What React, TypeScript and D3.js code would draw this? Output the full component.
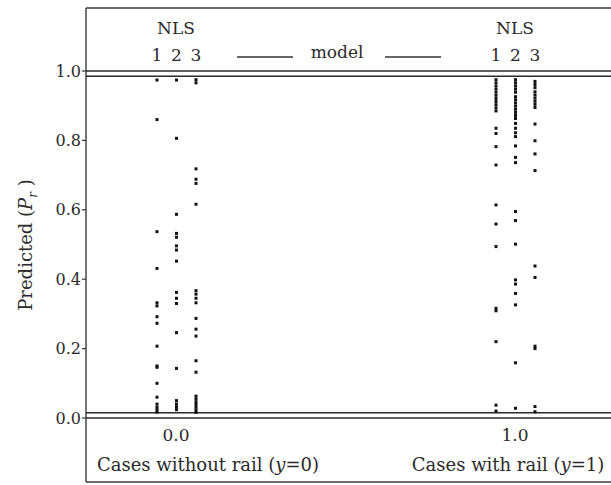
import React from "react";
import * as d3 from "d3";

// predicted probabilities, one list per NLS model and outcome
const models = ["1", "2", "3"];
const outcomes = [0, 1];
const outcomeLabels = ["Cases without rail (", "Cases with rail ("];

const noRail1 = [0.974, 0.86, 0.537, 0.431, 0.332, 0.323, 0.292, 0.273, 0.207, 0.15, 0.146, 0.1, 0.06, 0.04, 0.031, 0.024, 0.017];
const noRail2 = [0.974, 0.806, 0.587, 0.532, 0.521, 0.496, 0.484, 0.452, 0.362, 0.345, 0.33, 0.246, 0.143, 0.05, 0.04, 0.032, 0.024];
const noRail3 = [0.975, 0.966, 0.718, 0.688, 0.676, 0.616, 0.367, 0.357, 0.345, 0.332, 0.287, 0.256, 0.236, 0.165, 0.132, 0.063, 0.055, 0.047, 0.039, 0.031, 0.023, 0.016];

const rail1 = [0.975, 0.966, 0.957, 0.948, 0.939, 0.93, 0.921, 0.912, 0.903, 0.894, 0.885, 0.835, 0.82, 0.782, 0.729, 0.614, 0.559, 0.494, 0.316, 0.309, 0.22, 0.037, 0.02];
const rail2 = [0.975, 0.966, 0.957, 0.948, 0.939, 0.926, 0.917, 0.908, 0.899, 0.89, 0.881, 0.872, 0.863, 0.849, 0.835, 0.822, 0.811, 0.784, 0.751, 0.736, 0.595, 0.569, 0.501, 0.398, 0.386, 0.359, 0.326, 0.159, 0.028];
const rail3 = [0.97, 0.961, 0.952, 0.94, 0.931, 0.922, 0.913, 0.904, 0.895, 0.847, 0.799, 0.761, 0.713, 0.438, 0.405, 0.207, 0.2, 0.033, 0.018];

const series = [
  [noRail1, noRail2, noRail3],
  [rail1, rail2, rail3],
];

const yTicks = [0, 0.2, 0.4, 0.6, 0.8, 1.0];
const boundLines = [1.0, 0.985, 0.015, 0.0];

const W = 611;
const H = 485;
const FONT = "'DejaVu Serif', serif";
const INK = "#111";
const TXT = "#2a2a2a";

export default function App() {
  const frame = { left: 86, top: 8, bottom: 482, right: 640 };

  const x = d3.scaleLinear().domain([0, 1]).range([176, 515]);
  const y = d3.scaleLinear().domain([0, 1]).range([418, 71]);
  const off = d3.scalePoint<string>().domain(models).range([-19, 20]);

  const pts: { cx: number; cy: number; key: string }[] = [];
  series.forEach((grp, gi) =>
    grp.forEach((vals, mi) =>
      vals.forEach((v, i) =>
        pts.push({
          cx: x(outcomes[gi]) + (off(models[mi]) ?? 0),
          cy: y(v),
          key: `${gi}-${mi}-${i}`,
        }),
      ),
    ),
  );

  const modelMid = x(0.475);

  return (
    <svg
      width={W}
      height={H}
      style={{ position: "absolute", left: 0, top: 0, background: "#fff" }}
      fontFamily={FONT}
    >
      {/* frame */}
      <line x1={frame.left} x2={frame.right} y1={frame.top} y2={frame.top} stroke="#3a3a3a" strokeWidth={1.4} />
      <line x1={frame.left} x2={frame.right} y1={frame.bottom} y2={frame.bottom} stroke="#3a3a3a" strokeWidth={1.4} />
      <line x1={frame.left} x2={frame.left} y1={frame.top} y2={frame.bottom} stroke="#3a3a3a" strokeWidth={1.4} />

      {/* horizontal bound lines across the plot */}
      {boundLines.map((b) => (
        <line key={b} x1={frame.left} x2={frame.right} y1={y(b)} y2={y(b)} stroke="#2a2a2a" strokeWidth={1.5} />
      ))}

      {/* y axis ticks */}
      {yTicks.map((t) => (
        <g key={t}>
          <line x1={frame.left - 4} x2={frame.left} y1={y(t)} y2={y(t)} stroke="#333" strokeWidth={1.2} />
          <text x={frame.left - 5} y={y(t)} dy="0.35em" textAnchor="end" fontSize={16} fill={TXT}>
            {t.toFixed(1)}
          </text>
        </g>
      ))}

      <text
        transform={`translate(32, 245) rotate(-90)`}
        textAnchor="middle"
        fontSize={18}
        fill={TXT}
      >
        Predicted (<tspan fontStyle="italic">P</tspan>
        <tspan fontStyle="italic" fontSize={12} dy="5">r</tspan>
        <tspan dy="-5"> )</tspan>
      </text>

      {/* header */}
      {outcomes.map((o, gi) => (
        <g key={o}>
          <text x={x(o)} y={34} textAnchor="middle" fontSize={17} fill={TXT}>
            NLS
          </text>
          {models.map((m) => (
            <text key={m} x={x(o) + (off(m) ?? 0)} y={61} textAnchor="middle" fontSize={17} fill={TXT}>
              {m}
            </text>
          ))}
          <text x={x(o)} y={441} textAnchor="middle" fontSize={17} fill={TXT}>
            {o.toFixed(1)}
          </text>
          <text x={x(o) + (gi === 0 ? 32 : -7)} y={471} textAnchor="middle" fontSize={18} fill={TXT}>
            {outcomeLabels[gi]}
            <tspan fontStyle="italic">y</tspan>={o})
          </text>
        </g>
      ))}
      <text x={modelMid} y={58} textAnchor="middle" fontSize={17} fill={TXT}>
        model
      </text>
      <line x1={modelMid - 100} x2={modelMid - 44} y1={57} y2={57} stroke="#333" strokeWidth={1.3} />
      <line x1={modelMid + 48} x2={modelMid + 104} y1={57} y2={57} stroke="#333" strokeWidth={1.3} />

      {/* predictions */}
      {pts.map((p) => (
        <rect key={p.key} x={p.cx - 1.5} y={p.cy - 1.5} width={3} height={3} fill={INK} />
      ))}
    </svg>
  );
}
